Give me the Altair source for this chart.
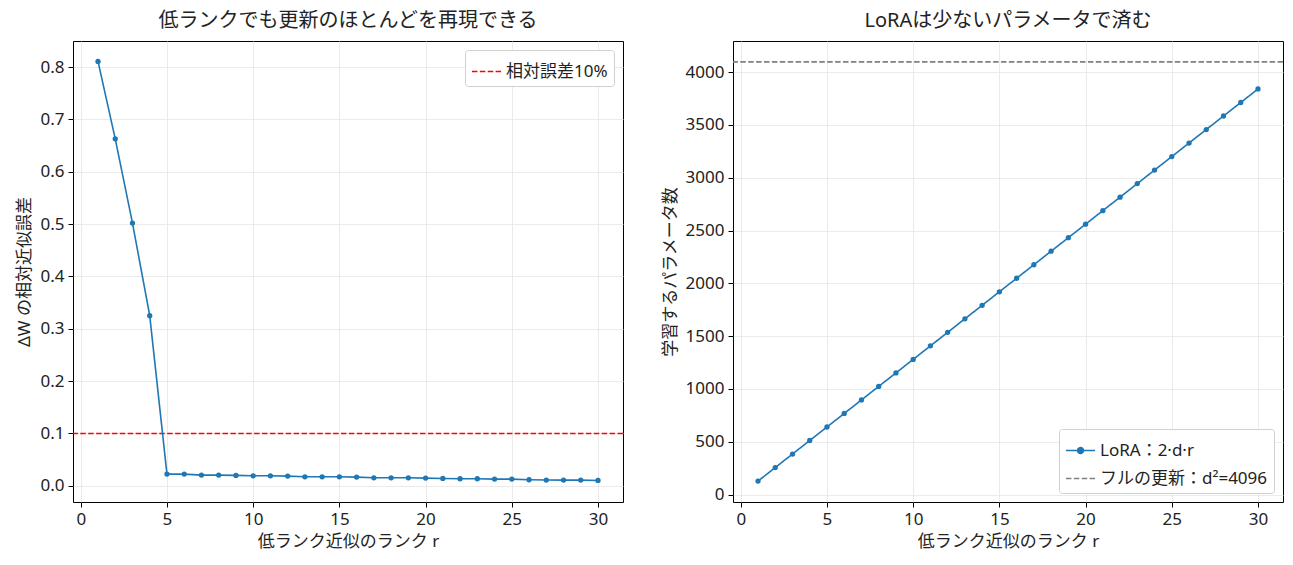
import altair as alt
import pandas as pd

# ---- data ----
ranks = list(range(1, 31))
rel_error = [0.811, 0.663, 0.502, 0.325,
             0.0223, 0.0223, 0.0204, 0.0204, 0.0198, 0.0191, 0.0191, 0.0185,
             0.0172, 0.0172, 0.0172, 0.0166, 0.0153, 0.0153, 0.0153, 0.0147,
             0.0140, 0.0134, 0.0134, 0.0128, 0.0128, 0.0115, 0.0109, 0.0109,
             0.0109, 0.0102]
lora_params = [128, 256, 384, 512, 640, 768, 896, 1024, 1152, 1280,
               1408, 1536, 1664, 1792, 1920, 2048, 2176, 2304, 2432, 2560,
               2688, 2816, 2944, 3072, 3200, 3328, 3456, 3584, 3712, 3840]
full_params = [4096]
threshold = [0.1]

thr_label = "相対誤差10%"
lora_label = "LoRA：2·d·r"
full_label = "フルの更新：d²=4096"
x_ticks = [0, 5, 10, 15, 20, 25, 30]

FONT = "'Noto Sans', 'Noto Sans CJK JP'"
BLUE = "#1f77b4"

df_err = pd.DataFrame({"r": ranks, "err": rel_error})
df_thr = pd.DataFrame({"y": threshold, "series": [thr_label]})
df_lora = pd.DataFrame({"r": ranks, "params": lora_params, "series": [lora_label] * len(ranks)})
df_full = pd.DataFrame({"params": full_params, "series": [full_label]})
df_shape = pd.DataFrame({"r": [15, 15], "params": [2000, 2000], "series": [lora_label, full_label]})

x_enc = alt.X("r:Q", scale=alt.Scale(domain=[-0.45, 31.45], nice=False, zero=False),
              axis=alt.Axis(values=x_ticks, title="低ランク近似のランク r", format="d"))

W, H = 550, 461

# ---- left chart ----
y_left = alt.Y("err:Q", scale=alt.Scale(domain=[-0.031, 0.85], nice=False, zero=False),
               axis=alt.Axis(values=[0, 0.1, 0.2, 0.3, 0.4, 0.5, 0.6, 0.7, 0.8], format=".1f",
                             title="ΔW の相対近似誤差"))
leg_l = alt.Legend(title=None, orient="top-right", offset=9, labelLimit=400)
left_line = alt.Chart(df_err).mark_line(color=BLUE, strokeWidth=1.6).encode(x=x_enc, y=y_left)
left_pts = alt.Chart(df_err).mark_point(color=BLUE, filled=True, size=28, opacity=1).encode(x=x_enc, y=y_left)
left_rule = alt.Chart(df_thr).mark_rule(strokeWidth=1.6).encode(
    y="y:Q",
    color=alt.Color("series:N", scale=alt.Scale(domain=[thr_label], range=["#ff0000"]), legend=leg_l),
    strokeDash=alt.StrokeDash("series:N", scale=alt.Scale(domain=[thr_label], range=[[5.5, 2.4]]),
                              legend=leg_l),
)
left = alt.layer(left_rule, left_line, left_pts).properties(
    width=W, height=H, title="低ランクでも更新のほとんどを再現できる")

# ---- right chart ----
dom = [lora_label, full_label]
y_right = alt.Y("params:Q", scale=alt.Scale(domain=[-70, 4294], nice=False, zero=False),
                axis=alt.Axis(values=[0, 500, 1000, 1500, 2000, 2500, 3000, 3500, 4000],
                              title="学習するパラメータ数", format="d"))
leg_r = alt.Legend(title=None, orient="bottom-right", offset=9, symbolOpacity=1, labelLimit=400)
color_r = alt.Color("series:N", scale=alt.Scale(domain=dom, range=[BLUE, "#808080"]), legend=leg_r)
dash_r = alt.StrokeDash("series:N", scale=alt.Scale(domain=dom, range=[[1, 0], [5.5, 2.4]]), legend=leg_r)
dot_path = "M-1,0H1M-0.2,0A0.2,0.2,0,1,0,0.2,0A0.2,0.2,0,1,0,-0.2,0Z"
shape_r = alt.Shape("series:N", scale=alt.Scale(domain=dom, range=[dot_path, "stroke"]), legend=leg_r)

right_line = alt.Chart(df_lora).mark_line(strokeWidth=1.6).encode(
    x=x_enc, y=y_right, color=color_r, strokeDash=dash_r)
right_pts = alt.Chart(df_lora).mark_point(filled=True, size=28, opacity=1).encode(
    x=x_enc, y=y_right, color=color_r)
right_rule = alt.Chart(df_full).mark_rule(strokeWidth=1.6).encode(
    y=alt.Y("params:Q"), color=color_r, strokeDash=dash_r)
right_shape = alt.Chart(df_shape).mark_point(filled=True, opacity=0, size=1).encode(
    x=x_enc, y=y_right, color=color_r, shape=shape_r)
right = alt.layer(right_rule, right_line, right_pts, right_shape).properties(
    width=W, height=H, title="LoRAは少ないパラメータで済む")

chart = alt.hconcat(left, right, spacing=35).resolve_scale(
    color="independent", strokeDash="independent", shape="independent",
    x="independent", y="independent"
).resolve_legend(
    color="independent", strokeDash="independent", shape="independent"
).properties(
    padding={"left": 15, "top": 10, "right": 3, "bottom": 3}
).configure(font=FONT).configure_view(
    stroke="black", strokeWidth=1
).configure_axis(
    domain=False, tickColor="black", tickSize=5, tickWidth=1,
    labelFontSize=17, labelColor="#222", labelFont=FONT,
    titleFontSize=17, titleFontWeight="normal", titleColor="#222", titleFont=FONT,
    grid=True, gridColor="#e6e6e6", gridWidth=0.8, labelPadding=4, titlePadding=6,
).configure_title(
    fontSize=20, fontWeight="normal", font=FONT, color="#222", anchor="middle", offset=10
).configure_legend(
    labelFontSize=17, labelFont=FONT, labelColor="#222",
    fillColor="white", strokeColor="#d0d0d0", cornerRadius=3, padding=6,
    symbolType="stroke", symbolSize=850, symbolStrokeWidth=1.6, rowPadding=4,
)

chart.save("out.html", embed_options={"renderer": "svg", "actions": False})
